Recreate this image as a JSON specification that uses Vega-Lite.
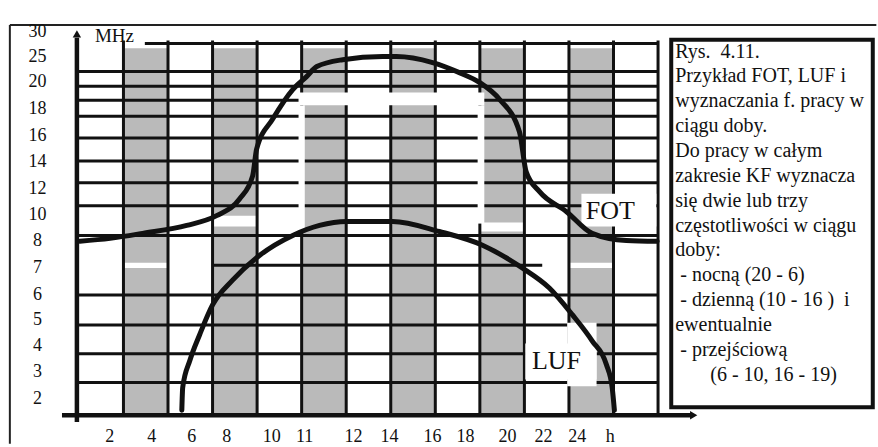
{
  "$schema": "https://vega.github.io/schema/vega-lite/v6.json",
  "width": 878,
  "height": 447,
  "autosize": {"type": "fit", "contains": "padding"},
  "padding": 0,
  "background": "white",
  "config": {"view": {"stroke": null}, "text": {"font": "Liberation Serif", "color": "#111"}},
  "datasets": {
    "frame": [
      {"c1": -1.55, "c2": 17.9, "u1": 14.78, "u2": 14.78},
      {"c1": -1.55, "c2": -1.55, "u1": 14.78, "u2": -1.08}
    ],
    "gray": [
      {"c1": 1, "c2": 2}, {"c1": 3, "c2": 4}, {"c1": 5, "c2": 6},
      {"c1": 7, "c2": 8}, {"c1": 9, "c2": 10}, {"c1": 11, "c2": 12}
    ],
    "bandsUnder": [
      {"c1": 1, "c2": 2, "u1": 5.58, "u2": 5.78},
      {"c1": 11, "c2": 12, "u1": 5.58, "u2": 5.78},
      {"c1": 3, "c2": 4, "u1": 7.15, "u2": 7.56},
      {"c1": 9, "c2": 10, "u1": 6.96, "u2": 7.3}
    ],
    "bandsOver": [
      {"c1": 4.93, "c2": 9.1, "u1": 11.74, "u2": 12.23},
      {"c1": 4.93, "c2": 5.07, "u1": 7.0, "u2": 11.74},
      {"c1": 8.95, "c2": 9.1, "u1": 7.26, "u2": 11.74},
      {"c1": 11.28, "c2": 12.96, "u1": 7.15, "u2": 8.39},
      {"c1": 10.02, "c2": 11.62, "u1": 1.35, "u2": 2.72},
      {"c1": 10.96, "c2": 11.62, "u1": 1.1, "u2": 3.5}
    ],
    "hgrid": [
      {"u": 14.08, "c1": 1.48, "c2": 13.02},
      {"u": 13.02, "c1": 0, "c2": 13},
      {"u": 12.46, "c1": 0, "c2": 13},
      {"u": 11.93, "c1": 0, "c2": 13},
      {"u": 11.33, "c1": 0, "c2": 13},
      {"u": 10.5, "c1": 0, "c2": 13},
      {"u": 9.63, "c1": 0, "c2": 13},
      {"u": 8.81, "c1": 0, "c2": 13},
      {"u": 7.94, "c1": 0, "c2": 13},
      {"u": 6.81, "c1": 0, "c2": 13},
      {"u": 5.68, "c1": 3, "c2": 10.4},
      {"u": 4.55, "c1": 0, "c2": 13},
      {"u": 3.42, "c1": 0, "c2": 13},
      {"u": 2.33, "c1": 0, "c2": 13},
      {"u": 1.24, "c1": 0, "c2": 13}
    ],
    "vgrid": [
      {"c": 1}, {"c": 2}, {"c": 3}, {"c": 4}, {"c": 5}, {"c": 6}, {"c": 7},
      {"c": 8}, {"c": 9}, {"c": 10}, {"c": 11}, {"c": 12}, {"c": 13}
    ],
    "axes": [
      {"c1": -0.045, "c2": -0.045, "u1": -0.26, "u2": 14.3},
      {"c1": -0.38, "c2": 13.75, "u1": 0, "u2": 0}
    ],
    "curves": [
      {"s": "FOT", "c": 0.02, "u": 6.59},
      {"s": "FOT", "c": 0.7, "u": 6.7},
      {"s": "FOT", "c": 1.43, "u": 6.89},
      {"s": "FOT", "c": 2.42, "u": 7.19},
      {"s": "FOT", "c": 3.09, "u": 7.56},
      {"s": "FOT", "c": 3.61, "u": 8.2},
      {"s": "FOT", "c": 3.9, "u": 9.07},
      {"s": "FOT", "c": 3.99, "u": 10.09},
      {"s": "FOT", "c": 4.35, "u": 11.22},
      {"s": "FOT", "c": 4.8, "u": 12.34},
      {"s": "FOT", "c": 5.11, "u": 12.83},
      {"s": "FOT", "c": 5.34, "u": 13.21},
      {"s": "FOT", "c": 5.92, "u": 13.47},
      {"s": "FOT", "c": 6.82, "u": 13.59},
      {"s": "FOT", "c": 7.13, "u": 13.59},
      {"s": "FOT", "c": 7.94, "u": 13.36},
      {"s": "FOT", "c": 8.54, "u": 12.98},
      {"s": "FOT", "c": 8.99, "u": 12.61},
      {"s": "FOT", "c": 9.44, "u": 11.97},
      {"s": "FOT", "c": 9.89, "u": 10.73},
      {"s": "FOT", "c": 10.04, "u": 9.22},
      {"s": "FOT", "c": 10.34, "u": 8.47},
      {"s": "FOT", "c": 10.94, "u": 7.72},
      {"s": "FOT", "c": 11.52, "u": 6.89},
      {"s": "FOT", "c": 12.29, "u": 6.62},
      {"s": "FOT", "c": 12.98, "u": 6.59},
      {"s": "LUF", "c": 2.31, "u": 0.19},
      {"s": "LUF", "c": 2.33, "u": 1.05},
      {"s": "LUF", "c": 2.49, "u": 2.07},
      {"s": "LUF", "c": 2.71, "u": 3.05},
      {"s": "LUF", "c": 3.0, "u": 4.18},
      {"s": "LUF", "c": 3.45, "u": 5.12},
      {"s": "LUF", "c": 4.06, "u": 6.06},
      {"s": "LUF", "c": 4.8, "u": 6.81},
      {"s": "LUF", "c": 5.4, "u": 7.19},
      {"s": "LUF", "c": 6.01, "u": 7.34},
      {"s": "LUF", "c": 7.04, "u": 7.34},
      {"s": "LUF", "c": 8.09, "u": 6.96},
      {"s": "LUF", "c": 9.06, "u": 6.44},
      {"s": "LUF", "c": 9.96, "u": 5.57},
      {"s": "LUF", "c": 10.56, "u": 4.82},
      {"s": "LUF", "c": 11.08, "u": 3.8},
      {"s": "LUF", "c": 11.52, "u": 2.82},
      {"s": "LUF", "c": 11.84, "u": 1.92},
      {"s": "LUF", "c": 11.97, "u": 1.05},
      {"s": "LUF", "c": 12.02, "u": 0.19}
    ],
    "ylabels": [
      {"t": "30", "u": 14.53}, {"t": "25", "u": 13.59}, {"t": "20", "u": 12.61},
      {"t": "18", "u": 11.59}, {"t": "16", "u": 10.58}, {"t": "14", "u": 9.6},
      {"t": "12", "u": 8.58}, {"t": "10", "u": 7.6}, {"t": "8", "u": 6.59},
      {"t": "7", "u": 5.57}, {"t": "6", "u": 4.55}, {"t": "5", "u": 3.61},
      {"t": "4", "u": 2.63}, {"t": "3", "u": 1.62}, {"t": "2", "u": 0.6}
    ],
    "xlabels": [
      {"t": "2", "c": 0.695}, {"t": "4", "c": 1.637}, {"t": "6", "c": 2.534},
      {"t": "8", "c": 3.318}, {"t": "10", "c": 4.327}, {"t": "11", "c": 5.067},
      {"t": "12", "c": 6.166}, {"t": "14", "c": 6.973}, {"t": "16", "c": 7.937},
      {"t": "18", "c": 8.677}, {"t": "20", "c": 9.619}, {"t": "22", "c": 10.426},
      {"t": "24", "c": 11.188}, {"t": "h", "c": 11.928}
    ]
  },
  "layer": [
    {
      "data": {"name": "frame"},
      "mark": {"type": "rule", "strokeWidth": 2, "color": "#222"},
      "encoding": {
        "x": {"field": "c1", "type": "quantitative", "scale": {"domain": [-1.7713, 17.9148], "nice": false, "zero": false}, "axis": null},
        "x2": {"field": "c2"},
        "y": {"field": "u1", "type": "quantitative", "scale": {"domain": [-1.0915, 15.732], "nice": false, "zero": false}, "axis": null},
        "y2": {"field": "u2"}
      }
    },
    {
      "data": {"name": "gray"},
      "mark": {"type": "rect", "color": "#bababa"},
      "encoding": {
        "x": {"field": "c1", "type": "quantitative"},
        "x2": {"field": "c2"},
        "y": {"datum": 0, "type": "quantitative"},
        "y2": {"datum": 13.9}
      }
    },
    {
      "data": {"name": "bandsUnder"},
      "mark": {"type": "rect", "color": "white"},
      "encoding": {
        "x": {"field": "c1", "type": "quantitative"},
        "x2": {"field": "c2"},
        "y": {"field": "u1", "type": "quantitative"},
        "y2": {"field": "u2"}
      }
    },
    {
      "data": {"name": "hgrid"},
      "mark": {"type": "rule", "strokeWidth": 3, "color": "#111"},
      "encoding": {
        "x": {"field": "c1", "type": "quantitative"},
        "x2": {"field": "c2"},
        "y": {"field": "u", "type": "quantitative"}
      }
    },
    {
      "data": {"name": "vgrid"},
      "mark": {"type": "rule", "strokeWidth": 3, "color": "#111"},
      "encoding": {
        "x": {"field": "c", "type": "quantitative"},
        "y": {"datum": 0, "type": "quantitative"},
        "y2": {"datum": 14.2}
      }
    },
    {
      "data": {"name": "bandsOver"},
      "mark": {"type": "rect", "color": "white"},
      "encoding": {
        "x": {"field": "c1", "type": "quantitative"},
        "x2": {"field": "c2"},
        "y": {"field": "u1", "type": "quantitative"},
        "y2": {"field": "u2"}
      }
    },
    {
      "data": {"name": "axes"},
      "mark": {"type": "rule", "strokeWidth": 4.5, "color": "#111"},
      "encoding": {
        "x": {"field": "c1", "type": "quantitative"},
        "x2": {"field": "c2"},
        "y": {"field": "u1", "type": "quantitative"},
        "y2": {"field": "u2"}
      }
    },
    {
      "data": {"values": [{}]},
      "mark": {"type": "point", "shape": "triangle-up", "filled": true, "size": 70, "color": "#111", "opacity": 1},
      "encoding": {
        "x": {"datum": -0.045, "type": "quantitative"},
        "y": {"datum": 14.45, "type": "quantitative"}
      }
    },
    {
      "data": {"values": [{}]},
      "mark": {"type": "point", "shape": "triangle-right", "filled": true, "size": 70, "color": "#111", "opacity": 1},
      "encoding": {
        "x": {"datum": 13.8, "type": "quantitative"},
        "y": {"datum": 0, "type": "quantitative"}
      }
    },
    {
      "data": {"name": "curves"},
      "mark": {"type": "line", "interpolate": "monotone", "strokeWidth": 5, "color": "#111", "strokeCap": "round"},
      "encoding": {
        "x": {"field": "c", "type": "quantitative"},
        "y": {"field": "u", "type": "quantitative"},
        "detail": {"field": "s"}
      }
    },
    {
      "data": {"name": "ylabels"},
      "mark": {"type": "text", "fontSize": 18, "align": "center", "baseline": "middle"},
      "encoding": {
        "x": {"datum": -0.93, "type": "quantitative"},
        "y": {"field": "u", "type": "quantitative"},
        "text": {"field": "t"}
      }
    },
    {
      "data": {"name": "xlabels"},
      "mark": {"type": "text", "fontSize": 18, "align": "center", "baseline": "middle"},
      "encoding": {
        "x": {"field": "c", "type": "quantitative"},
        "y": {"datum": -0.83, "type": "quantitative"},
        "text": {"field": "t"}
      }
    },
    {
      "data": {"values": [{}]},
      "mark": {"type": "text", "fontSize": 19, "align": "left", "baseline": "middle"},
      "encoding": {
        "x": {"datum": 0.36, "type": "quantitative"},
        "y": {"datum": 14.38, "type": "quantitative"},
        "text": {"value": "MHz"}
      }
    },
    {
      "data": {"values": [{}]},
      "mark": {"type": "text", "fontSize": 26, "align": "center", "baseline": "middle"},
      "encoding": {
        "x": {"datum": 11.93, "type": "quantitative"},
        "y": {"datum": 7.72, "type": "quantitative"},
        "text": {"value": "FOT"}
      }
    },
    {
      "data": {"values": [{}]},
      "mark": {"type": "text", "fontSize": 26, "align": "center", "baseline": "middle"},
      "encoding": {
        "x": {"datum": 10.72, "type": "quantitative"},
        "y": {"datum": 2.07, "type": "quantitative"},
        "text": {"value": "LUF"}
      }
    },
    {
      "data": {"values": [{}]},
      "mark": {"type": "rect", "fill": "white", "stroke": "#111", "strokeWidth": 4},
      "encoding": {
        "x": {"datum": 13.296, "type": "quantitative"},
        "x2": {"datum": 17.82},
        "y": {"datum": 14.227, "type": "quantitative"},
        "y2": {"datum": 0.301}
      }
    },
    {
      "data": {"values": [{}]},
      "mark": {"type": "text", "fontSize": 20, "align": "left", "baseline": "middle", "lineHeight": 24.85},
      "encoding": {
        "x": {"datum": 13.386, "type": "quantitative"},
        "y": {"datum": 13.775, "type": "quantitative"},
        "text": {"value": ["Rys.\u00a0\u00a04.11.", "Przykład FOT, LUF i", "wyznaczania f. pracy w", "ciągu doby.", "Do pracy w całym", "zakresie KF wyznacza", "się dwie lub trzy", "częstotliwości w ciągu", "doby:", "\u200b\u00a0- nocną (20 - 6)", "\u200b\u00a0- dzienną (10 - 16 )\u00a0\u00a0i", "ewentualnie", "\u200b\u00a0- przejściową", "\u200b\u00a0\u00a0\u00a0\u00a0\u00a0\u00a0\u00a0(6 - 10, 16 - 19)"]}
      }
    }
  ]
}
